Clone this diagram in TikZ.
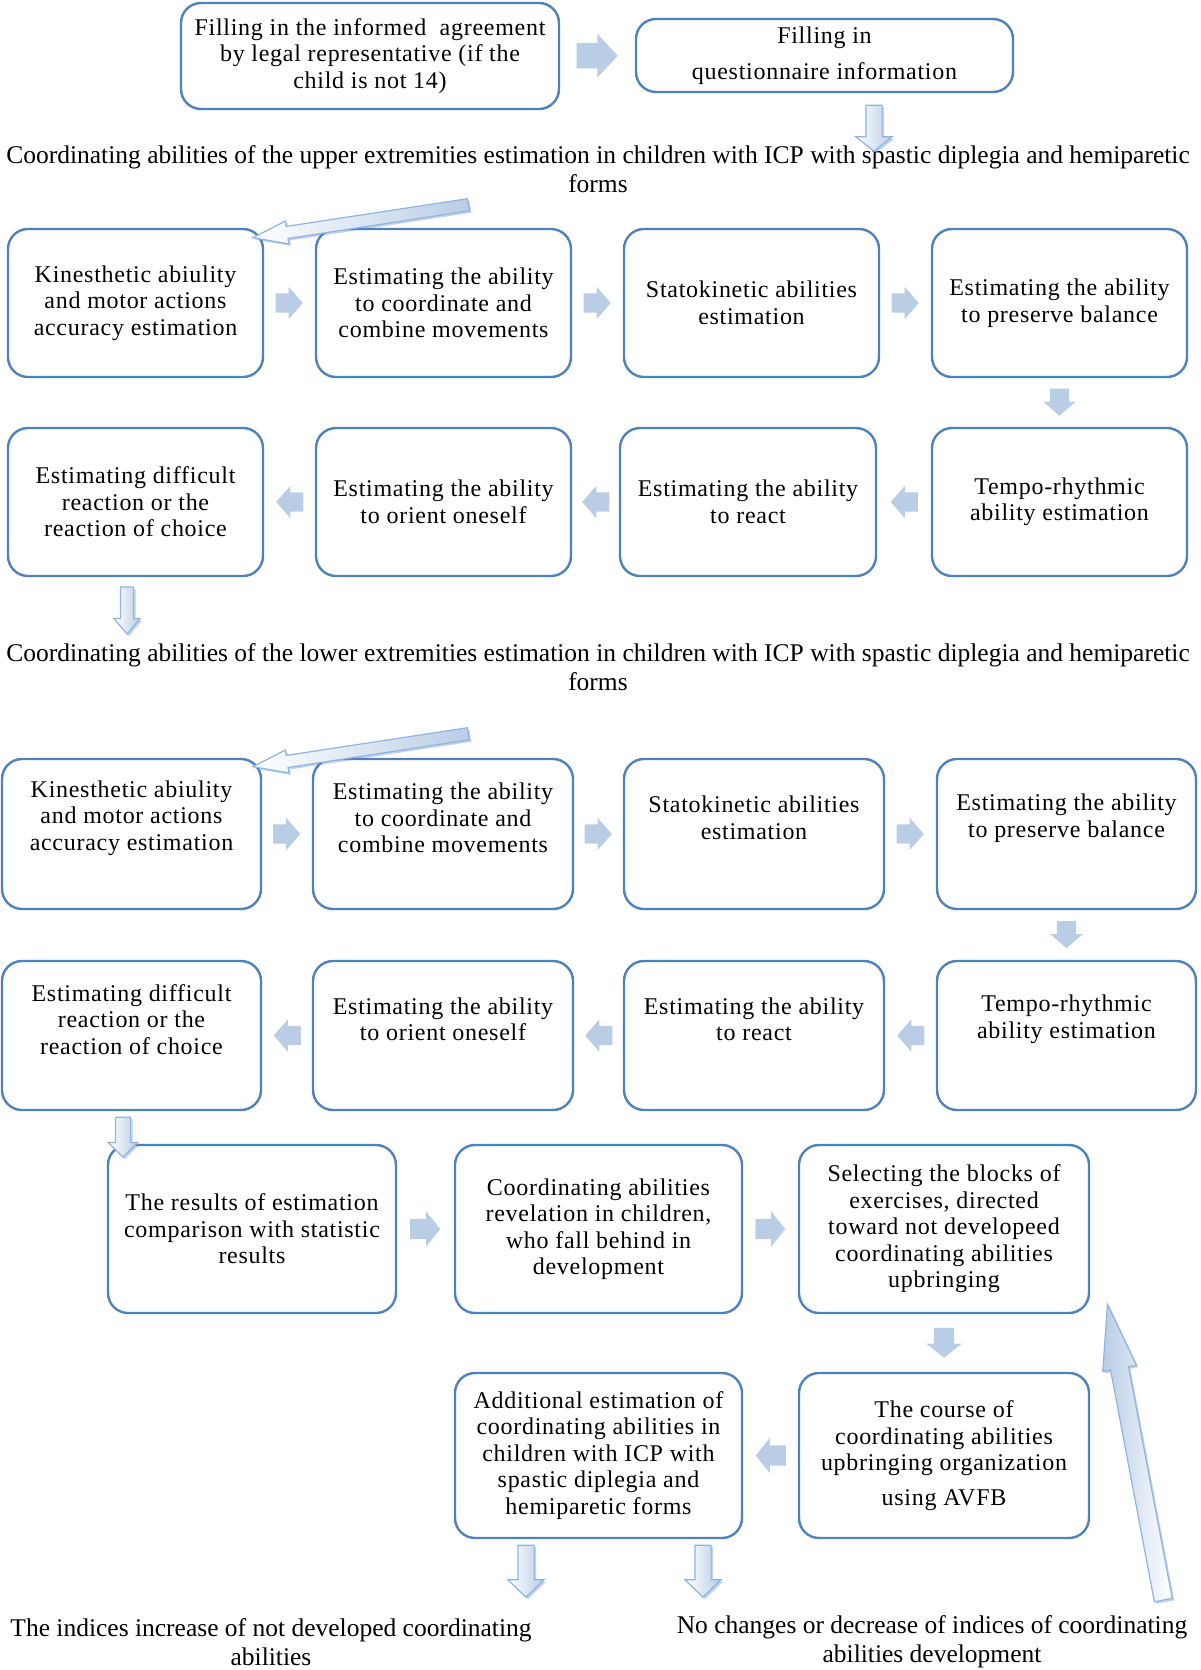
\documentclass[tikz,border=0pt]{standalone}
\usepackage{fontspec}
\setmainfont{Liberation Serif}
\newfontfamily\boxfam[LetterSpace=3]{Liberation Serif}
\usetikzlibrary{shapes.arrows,calc,shadows}
\definecolor{boxblue}{HTML}{4F81BD}
\definecolor{ablue}{HTML}{B9CDE5}
\definecolor{oblue}{HTML}{8EB4E3}
\begin{document}
\begin{tikzpicture}[x=1pt,y=-1pt,
  box/.style={draw=boxblue, line width=2.4pt, rounded corners=20pt, fill=white,
    align=center, inner sep=0pt, font=\boxfam\fontsize{24}{26.5}\selectfont},
  btext/.style={align=center, inner sep=0pt, font=\boxfam\fontsize{24}{26.5}\selectfont},
  captxt/.style={align=center, inner sep=0pt, font=\fontsize{25.5}{29}\selectfont},
  blk/.style={single arrow, draw=none, fill=ablue, inner xsep=0pt, anchor=tip},
  rarr/.style={blk, inner ysep=9.5pt, minimum height=27pt, minimum width=32pt, single arrow head extend=6.5pt, single arrow tip angle=98},
  carr/.style={blk, inner ysep=10pt, minimum height=30pt, minimum width=35pt, single arrow head extend=7.5pt, single arrow tip angle=103},
  oarr/.style={single arrow, draw=oblue, line width=1.2pt, inner xsep=0pt, anchor=tip, left color=white, right color=ablue,
    drop shadow={shadow xshift=2pt, shadow yshift=-2pt, opacity=0.35, fill=boxblue}},
]
\useasboundingbox (0,0) rectangle (1200,1670);

% top row
\node[box, minimum width=378pt, minimum height=106pt] (a) at (370,56)
  {Filling in the informed\ \ agreement\\by legal representative (if the\\child is not 14)};
\node[box, minimum width=377pt, minimum height=73pt, font=\boxfam\fontsize{24}{36}\selectfont] (b) at (824.5,55.5)
  {Filling in\\questionnaire information};
\node[blk, inner ysep=12.5pt, minimum height=41pt, minimum width=43pt, single arrow head extend=9pt, single arrow tip angle=94]
  (ab) at ($(a.east)!0.5!(b.west)+(20.5,0)$) {};

% caption 1
\node[captxt] (cap1) at (598,169.5)
  {Coordinating abilities of the upper extremities estimation in children with ICP with spastic diplegia and hemiparetic\\forms};
\node[oarr, rotate=-90, inner ysep=7.5pt, minimum height=46pt, minimum width=35pt, single arrow head extend=10pt, single arrow tip angle=103]
  (oa1) at (874,152) {};

% row 1
\node[box, minimum width=255pt, minimum height=148pt] (k1) at (135.5,303)
  {Kinesthetic abiulity\\and motor actions\\accuracy estimation};
\node[box, minimum width=255pt, minimum height=148pt] (e1) at (443.5,303)
  {Estimating the ability\\to coordinate and\\combine movements};
\node[box, minimum width=255pt, minimum height=148pt] (s1) at (751.5,303)
  {Statokinetic abilities\\estimation};
\node[box, minimum width=255pt, minimum height=148pt] (p1) at (1059.5,303)
  {Estimating the ability\\to preserve balance};
\node[oarr, rotate=188.7, inner ysep=5.5pt, minimum height=218pt, minimum width=22pt, single arrow head extend=5.5pt, single arrow tip angle=37]
  (dg1) at (251,238) {};

% row 2
\node[box, minimum width=255pt, minimum height=148pt] (d1) at (135.5,502)
  {Estimating difficult\\reaction or the\\reaction of choice};
\node[box, minimum width=255pt, minimum height=148pt] (o1) at (443.5,502)
  {Estimating the ability\\to orient oneself};
\node[box, minimum width=256pt, minimum height=148pt] (r1) at (748,502)
  {Estimating the ability\\to react};
\node[box, minimum width=255pt, minimum height=148pt] (t1) at (1059.5,502)
  {Tempo-rhythmic\\ability estimation};

\node[rarr] (x1) at ($(k1.east)!0.5!(e1.west)+(13.5,0)$) {};
\node[rarr] (x2) at ($(e1.east)!0.5!(s1.west)+(13.5,0)$) {};
\node[rarr] (x3) at ($(s1.east)!0.5!(p1.west)+(13.5,0)$) {};
\node[rarr, rotate=-90] (x4) at ($(p1.south)!0.5!(t1.north)+(0,13.5)$) {};
\node[rarr, rotate=180] (x5) at ($(t1.west)!0.5!(r1.east)+(-13.5,0)$) {};
\node[rarr, rotate=180] (x6) at ($(r1.west)!0.5!(o1.east)+(-13.5,0)$) {};
\node[rarr, rotate=180] (x7) at ($(o1.west)!0.5!(d1.east)+(-13.5,0)$) {};

% caption 2
\node[oarr, rotate=-90, inner ysep=6pt, minimum height=47pt, minimum width=25pt, single arrow head extend=6.5pt, single arrow tip angle=80]
  (oa2) at (127,635) {};
\node[captxt] (cap2) at (598,667.5)
  {Coordinating abilities of the lower extremities estimation in children with ICP with spastic diplegia and hemiparetic\\forms};

% row 3
\node[box, minimum width=259pt, minimum height=150pt] (k2) at (131.5,834) {};
\node[box, minimum width=260pt, minimum height=150pt] (e2) at (443,834) {};
\node[box, minimum width=260pt, minimum height=150pt] (s2) at (754,834) {};
\node[box, minimum width=259pt, minimum height=150pt] (p2) at (1066.5,834) {};
\node[btext] (k2t) at ($(k2.center)+(0,-16)$) {Kinesthetic abiulity\\and motor actions\\accuracy estimation};
\node[btext] (e2t) at ($(e2.center)+(0,-16)$) {Estimating the ability\\to coordinate and\\combine movements};
\node[btext] (s2t) at ($(s2.center)+(0,-16)$) {Statokinetic abilities\\estimation};
\node[btext] (p2t) at ($(p2.center)+(0,-16)$) {Estimating the ability\\to preserve balance};
\node[oarr, rotate=188.7, inner ysep=5.5pt, minimum height=218pt, minimum width=22pt, single arrow head extend=5.5pt, single arrow tip angle=37]
  (dg2) at (251,767) {};

% row 4
\node[box, minimum width=259pt, minimum height=149pt] (d2) at (131.5,1035.5) {};
\node[box, minimum width=260pt, minimum height=149pt] (o2) at (443,1035.5) {};
\node[box, minimum width=260pt, minimum height=149pt] (r2) at (754,1035.5) {};
\node[box, minimum width=259pt, minimum height=149pt] (t2) at (1066.5,1035.5) {};
\node[btext] (d2t) at ($(d2.center)+(0,-16)$) {Estimating difficult\\reaction or the\\reaction of choice};
\node[btext] (o2t) at ($(o2.center)+(0,-16)$) {Estimating the ability\\to orient oneself};
\node[btext] (r2t) at ($(r2.center)+(0,-16)$) {Estimating the ability\\to react};
\node[btext] (t2t) at ($(t2.center)+(0,-16)$) {Tempo-rhythmic\\ability estimation};

\node[rarr] (y1) at ($(k2.east)!0.5!(e2.west)+(13.5,0)$) {};
\node[rarr] (y2) at ($(e2.east)!0.5!(s2.west)+(13.5,0)$) {};
\node[rarr] (y3) at ($(s2.east)!0.5!(p2.west)+(13.5,0)$) {};
\node[rarr, rotate=-90] (y4) at ($(p2.south)!0.5!(t2.north)+(0,13.5)$) {};
\node[rarr, rotate=180] (y5) at ($(t2.west)!0.5!(r2.east)+(-13.5,0)$) {};
\node[rarr, rotate=180] (y6) at ($(r2.west)!0.5!(o2.east)+(-13.5,0)$) {};
\node[rarr, rotate=180] (y7) at ($(o2.west)!0.5!(d2.east)+(-13.5,0)$) {};

% row 5
\node[box, minimum width=288pt, minimum height=168pt] (c1) at (252,1229)
  {The results of estimation\\comparison with statistic\\results};
\node[box, minimum width=287pt, minimum height=168pt] (c2) at (598.5,1229)
  {Coordinating abilities\\revelation in children,\\who fall behind in\\development};
\node[box, minimum width=290pt, minimum height=168pt] (c3) at (944,1229)
  {Selecting the blocks of\\exercises, directed\\toward not developeed\\coordinating abilities\\upbringing};
\node[oarr, rotate=-90, inner ysep=7pt, minimum height=40pt, minimum width=28pt, single arrow head extend=7pt, single arrow tip angle=90]
  (oa3) at (123,1158) {};
\node[carr] (z1) at ($(c1.east)!0.5!(c2.west)+(15,0)$) {};
\node[carr] (z2) at ($(c2.east)!0.5!(c3.west)+(15,0)$) {};

% row 6
\node[box, minimum width=287pt, minimum height=165pt] (f1) at (598.5,1455.5)
  {Additional estimation of\\coordinating abilities in\\children with ICP with\\spastic diplegia and\\hemiparetic forms};
\node[box, minimum width=290pt, minimum height=165pt] (f2) at (944,1455.5)
  {The course of\\coordinating abilities\\upbringing organization\\[8pt]using AVFB};
\node[carr, rotate=-90] (z3) at ($(c3.south)!0.5!(f2.north)+(0,15)$) {};
\node[carr, rotate=180] (z4) at ($(f2.west)!0.5!(f1.east)+(-15,0)$) {};

% bottom
\node[oarr, rotate=-90, inner ysep=7.5pt, minimum height=52pt, minimum width=35pt, single arrow head extend=10pt, single arrow tip angle=92]
  (oa4) at (526,1598) {};
\node[oarr, rotate=-90, inner ysep=7.5pt, minimum height=52pt, minimum width=35pt, single arrow head extend=10pt, single arrow tip angle=92]
  (oa5) at (703,1598) {};
\node[oarr, rotate=100.7, left color=ablue, right color=white, inner ysep=8.5pt, minimum height=301pt, minimum width=33pt,
  single arrow head extend=8pt, single arrow tip angle=29.4] (up) at (1107,1302) {};
\node[captxt] (res1) at (271,1642) {The indices increase of not developed coordinating\\abilities};
\node[captxt] (res2) at (932,1642) {No changes or decrease of indices of coordinating\\abilities development};
\end{tikzpicture}
\end{document}
